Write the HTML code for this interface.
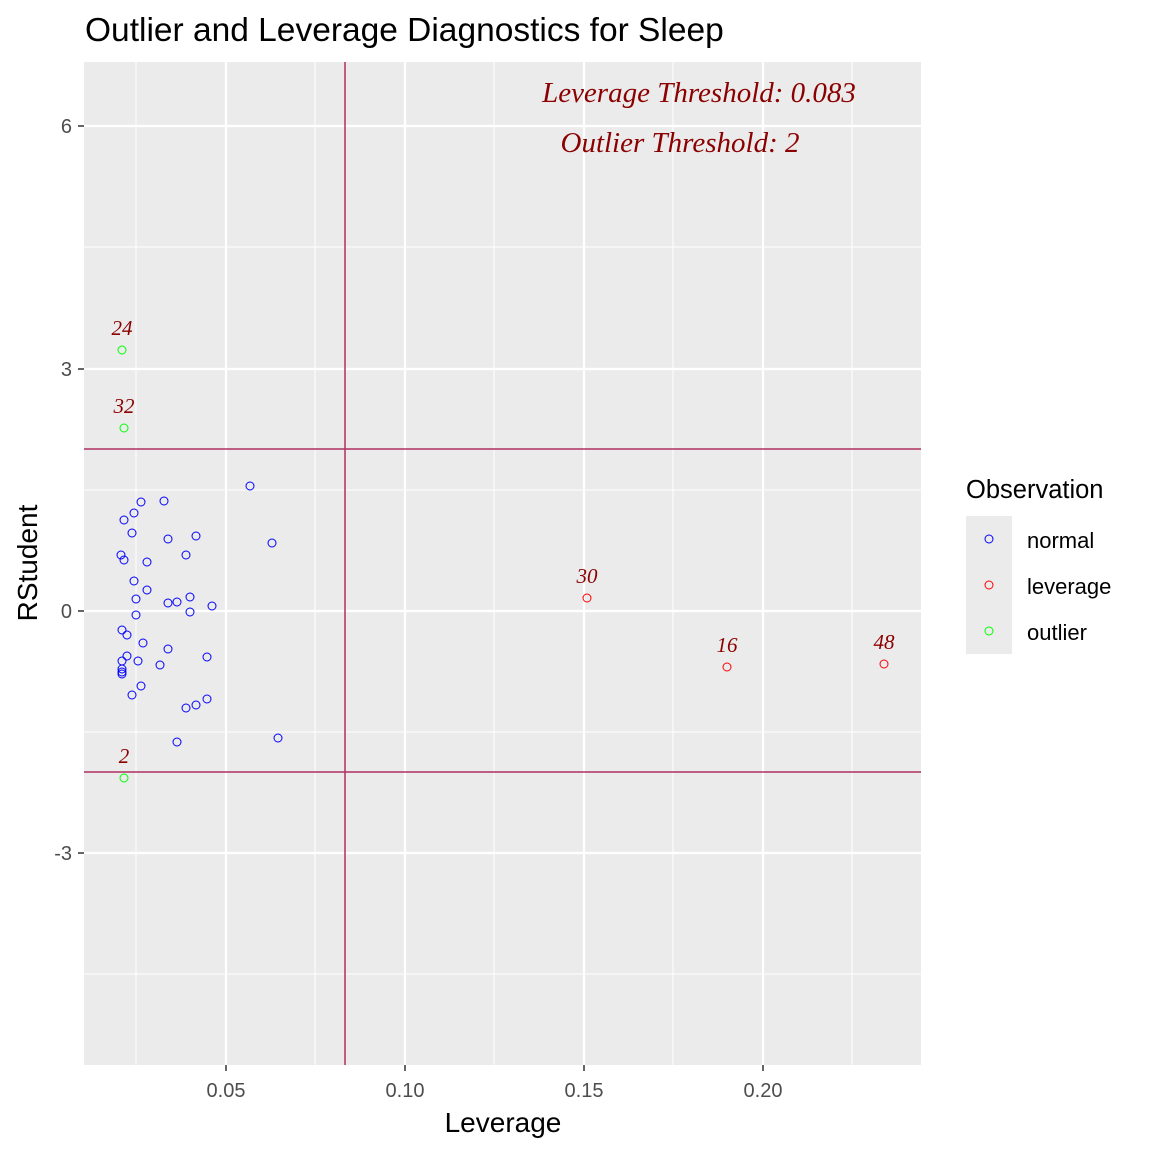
<!DOCTYPE html>
<html><head><meta charset="utf-8"><style>
html,body{margin:0;padding:0;background:#fff;}
svg{display:block;font-family:"Liberation Sans",sans-serif;}
</style></head><body>
<svg width="1152" height="1152" viewBox="0 0 1152 1152" xmlns="http://www.w3.org/2000/svg">
<rect width="1152" height="1152" fill="#fff"/>
<text x="85" y="41" font-size="33.5" fill="#000">Outlier and Leverage Diagnostics for Sleep</text>
<rect x="84" y="62" width="837" height="1003" fill="#ebebeb"/>
<g stroke="#fff" stroke-width="1">
<line x1="136" y1="62" x2="136" y2="1065"/><line x1="315" y1="62" x2="315" y2="1065"/><line x1="494" y1="62" x2="494" y2="1065"/><line x1="673" y1="62" x2="673" y2="1065"/><line x1="852" y1="62" x2="852" y2="1065"/>
<line x1="84" y1="247" x2="921" y2="247"/><line x1="84" y1="490" x2="921" y2="490"/><line x1="84" y1="732" x2="921" y2="732"/><line x1="84" y1="974" x2="921" y2="974"/>
</g>
<g stroke="#fff" stroke-width="2.2">
<line x1="226" y1="62" x2="226" y2="1065"/><line x1="405" y1="62" x2="405" y2="1065"/><line x1="584" y1="62" x2="584" y2="1065"/><line x1="763" y1="62" x2="763" y2="1065"/>
<line x1="84" y1="126" x2="921" y2="126"/><line x1="84" y1="369" x2="921" y2="369"/><line x1="84" y1="611" x2="921" y2="611"/><line x1="84" y1="853" x2="921" y2="853"/>
</g>
<g stroke="#b03060" stroke-width="1.5">
<line x1="345" y1="62" x2="345" y2="1065"/>
<line x1="84" y1="449" x2="921" y2="449"/>
<line x1="84" y1="772" x2="921" y2="772"/>
</g>
<g fill="none" stroke="#0000ff" stroke-width="1">
<circle cx="250" cy="486" r="4"/><circle cx="141" cy="502" r="4"/><circle cx="164" cy="501" r="4"/><circle cx="134" cy="513" r="4"/><circle cx="124" cy="520" r="4"/><circle cx="132" cy="533" r="4"/><circle cx="168" cy="539" r="4"/><circle cx="196" cy="536" r="4"/><circle cx="272" cy="543" r="4"/><circle cx="121" cy="555" r="4"/><circle cx="124" cy="560" r="4"/><circle cx="147" cy="562" r="4"/><circle cx="186" cy="555" r="4"/><circle cx="134" cy="581" r="4"/><circle cx="147" cy="590" r="4"/><circle cx="136" cy="599" r="4"/><circle cx="168" cy="603" r="4"/><circle cx="177" cy="602" r="4"/><circle cx="190" cy="597" r="4"/><circle cx="212" cy="606" r="4"/><circle cx="190" cy="612" r="4"/><circle cx="136" cy="615" r="4"/><circle cx="122" cy="630" r="4"/><circle cx="127" cy="635" r="4"/><circle cx="143" cy="643" r="4"/><circle cx="168" cy="649" r="4"/><circle cx="127" cy="656" r="4"/><circle cx="207" cy="657" r="4"/><circle cx="122" cy="661" r="4"/><circle cx="138" cy="661" r="4"/><circle cx="160" cy="665" r="4"/><circle cx="122" cy="669" r="4"/><circle cx="122" cy="672" r="4"/><circle cx="122" cy="674" r="4"/><circle cx="141" cy="686" r="4"/><circle cx="132" cy="695" r="4"/><circle cx="207" cy="699" r="4"/><circle cx="196" cy="705" r="4"/><circle cx="186" cy="708" r="4"/><circle cx="177" cy="742" r="4"/><circle cx="278" cy="738" r="4"/>
</g>
<g fill="none" stroke="#00ff00" stroke-width="1">
<circle cx="122" cy="350" r="4"/><circle cx="124" cy="428" r="4"/><circle cx="124" cy="778" r="4"/>
</g>
<g fill="none" stroke="#ff0000" stroke-width="1">
<circle cx="587" cy="598" r="4"/><circle cx="727" cy="667" r="4"/><circle cx="884" cy="664" r="4"/>
</g>
<g font-family="Liberation Serif,serif" font-style="italic" fill="#8b0000" font-size="21" text-anchor="middle">
<text x="122" y="335">24</text><text x="124" y="413">32</text><text x="124" y="763">2</text>
<text x="587" y="583">30</text><text x="727" y="652">16</text><text x="884" y="649">48</text>
<text x="699" y="102" font-size="29">Leverage Threshold: 0.083</text>
<text x="680" y="152" font-size="29">Outlier Threshold: 2</text>
</g>
<g stroke="#333" stroke-width="1.5">
<line x1="78" y1="126" x2="84" y2="126"/><line x1="78" y1="369" x2="84" y2="369"/><line x1="78" y1="611" x2="84" y2="611"/><line x1="78" y1="853" x2="84" y2="853"/>
<line x1="226" y1="1065" x2="226" y2="1071"/><line x1="405" y1="1065" x2="405" y2="1071"/><line x1="584" y1="1065" x2="584" y2="1071"/><line x1="763" y1="1065" x2="763" y2="1071"/>
</g>
<g font-size="20" fill="#4d4d4d" text-anchor="end">
<text x="72" y="133">6</text><text x="72" y="376">3</text><text x="72" y="618">0</text><text x="72" y="860">-3</text>
</g>
<g font-size="20" fill="#4d4d4d" text-anchor="middle">
<text x="226" y="1097">0.05</text><text x="405" y="1097">0.10</text><text x="584" y="1097">0.15</text><text x="763" y="1097">0.20</text>
</g>
<text x="503" y="1132" font-size="28" text-anchor="middle" fill="#000">Leverage</text>
<text transform="translate(37,563) rotate(-90)" font-size="28" text-anchor="middle" fill="#000">RStudent</text>
<text x="966" y="498" font-size="25.5" fill="#000">Observation</text>
<rect x="966" y="516" width="46" height="138" fill="#ebebeb"/>
<circle cx="989" cy="539" r="4" fill="none" stroke="#0000ff"/>
<circle cx="989" cy="585" r="4" fill="none" stroke="#ff0000"/>
<circle cx="989" cy="631" r="4" fill="none" stroke="#00ff00"/>
<g font-size="22" fill="#000">
<text x="1027" y="548">normal</text><text x="1027" y="594">leverage</text><text x="1027" y="640">outlier</text>
</g>
</svg>
</body></html>
